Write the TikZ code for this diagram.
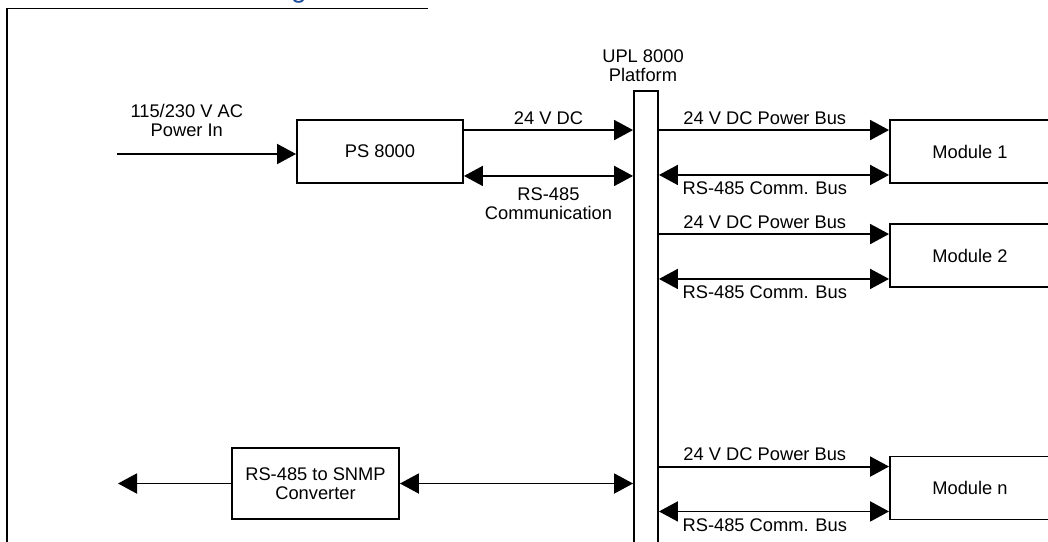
\documentclass[tikz,border=0pt]{standalone}
\usepackage{fontspec}
\setmainfont{Liberation Sans}
\usetikzlibrary{arrows.meta,positioning,calc}
\definecolor{Ink}{HTML}{000000}
\definecolor{TitleBlue}{HTML}{1F4E9A}

\tikzset{
  box/.style={draw=Ink,line width=1.9pt,minimum height=63pt,inner sep=0pt,align=center,
    font=\fontsize{18.3}{19}\selectfont},
  lbl/.style={font=\fontsize{18.3}{19}\selectfont,align=center,inner sep=0pt},
  tip/.style={line width=1.9pt,-{Triangle[length=19pt,width=20pt]}},
  both/.style={line width=1.9pt,{Triangle[length=19pt,width=20pt]}-{Triangle[length=19pt,width=20pt]}},
}

\begin{document}
\begin{tikzpicture}[x=1pt,y=-1pt]
  \useasboundingbox (0,0) rectangle (1048,541);
  \clip (0,0) rectangle (1048,541);
  % frame and cut-off title
  \node[font=\fontsize{28}{30}\selectfont,text=TitleBlue,anchor=base,inner sep=0pt] (ttl) at (299,-3) {g};
  \draw[line width=1.9pt,Ink] (428,8.5) -- (7,8.5) -- (7,560);

  % platform and power supply
  \node[draw=Ink,line width=1.9pt,minimum width=24pt,minimum height=470pt,inner sep=0pt] (upl) at (646,326) {};
  \node[lbl,anchor=base] (upllbl) at (643,81) {UPL 8000\\Platform};
  \node[box,minimum width=166pt] (ps) at (380,151.5) {PS 8000};
  \node[box,minimum width=167pt,minimum height=71pt] (conv) at (315.5,483.5) {RS-485 to SNMP\\Converter};

  \coordinate (acin) at (117,154);
  \coordinate (snmp) at (118,483.5);
  \coordinate (psdc) at ([yshift=-11pt]ps.north east);
  \coordinate (ps485) at ([yshift=8pt]ps.south east);

  \draw[tip] (acin) -- (acin -| ps.west)
    node[lbl,pos=.39,anchor=base,yshift=18pt] {115/230 V AC\\Power In};
  \draw[tip] (psdc) -- (psdc -| upl.west)
    node[lbl,midway,anchor=base,yshift=6pt] {24 V DC};
  \draw[both] (ps485) -- (ps485 -| upl.west)
    node[lbl,midway,anchor=base,yshift=-44pt] {RS-485\\Communication};
  \draw[both] (conv.east) -- (conv.east -| upl.west);
  \draw[tip] (conv.west) -- (snmp);

  % modules on the bus
  \foreach \m/\cy/\txt in {m1/151.5/Module 1,m2/255.5/Module 2,mn/488/Module n}{
    \node[box,minimum width=160pt] (\m) at (970,\cy) {\txt};
    \coordinate (\m pw) at ([yshift=-11pt]\m.north west);
    \coordinate (\m cb) at ([yshift=9pt]\m.south west);
    \draw[tip] (\m pw -| upl.east) -- (\m pw)
      node[lbl,pos=.46,anchor=base,yshift=6pt] {24 V DC Power Bus};
    \draw[both] (\m cb -| upl.east) -- (\m cb)
      node[lbl,pos=.46,anchor=base,yshift=-20pt] {RS-485 Comm. Bus};
  }
\end{tikzpicture}
\end{document}
